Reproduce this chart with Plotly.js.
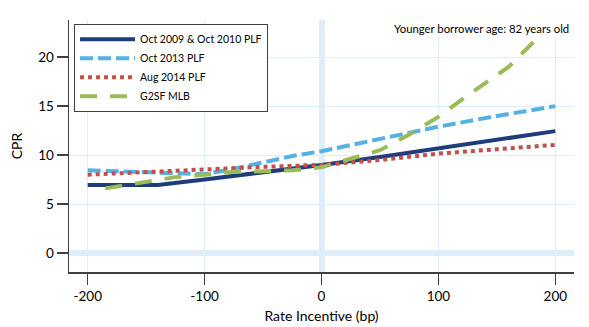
<!DOCTYPE html>
<html>
<head>
<meta charset="utf-8">
<script src="https://cdn.plot.ly/plotly-3.0.1.min.js"></script>
<style>html,body{margin:0;padding:0;background:#fff;}#chart{width:589px;height:327px;}</style>
</head>
<body>
<div id="chart"></div>
<script>
// Data
const seriesNames = ["Oct 2009 & Oct 2010 PLF", "Oct 2013 PLF", "Aug 2014 PLF", "G2SF MLB"];

const navyX = [-200, -140, -100, -50, 0, 50, 100, 150, 200];
const navyY = [6.95, 6.95, 7.5, 8.2, 9.0, 9.8, 10.7, 11.55, 12.45];

const blueX = [-200, -150, -100, -75, -50, -25, 0, 50, 100, 150, 200];
const blueY = [8.45, 8.25, 8.05, 8.6, 9.3, 9.9, 10.4, 11.7, 12.9, 14.0, 15.0];

const redX = [-200, -150, -100, -50, 0, 50, 100, 150, 200];
const redY = [8.0, 8.3, 8.55, 8.8, 9.0, 9.5, 10.15, 10.6, 11.05];

const greenX = [-185, -150, -125, -100, -75, -50, -25, 0, 25, 50, 75, 100, 125, 150, 160, 185];
const greenY = [6.6, 7.3, 7.75, 8.0, 8.3, 8.35, 8.45, 8.75, 9.65, 10.5, 12.1, 13.9, 16.1, 18.2, 19.0, 22.0];

const xTicks = [-200, -100, 0, 100, 200];
const yTicks = [0, 5, 10, 15, 20];

const FONT = "Lato, 'Open Sans', sans-serif";
const traces = [
  {x: navyX, y: navyY, name: seriesNames[0], mode: "lines",
   line: {color: "#1f3d7a", width: 4}},
  {x: blueX, y: blueY, name: seriesNames[1], mode: "lines",
   line: {color: "#56b1e3", width: 4, dash: "13px,5px"}},
  {x: redX, y: redY, name: seriesNames[2], mode: "lines",
   line: {color: "#c0504d", width: 4, dash: "4px,4px"}},
  {x: greenX, y: greenY, name: seriesNames[3], mode: "lines",
   line: {color: "#9bbb59", width: 4, dash: "17px,13px"}}
];

const gridColor = "#dfeefa";
const layout = {
  width: 589, height: 327,
  margin: {l: 69, r: 15, t: 20, b: 55},
  paper_bgcolor: "#ffffff", plot_bgcolor: "#ffffff",
  font: {family: FONT, color: "#000000", size: 13},
  showlegend: true,
  legend: {x: 0.01, y: 0.985, xanchor: "left", yanchor: "top",
    bgcolor: "#ffffff", bordercolor: "#404040", borderwidth: 1,
    font: {family: FONT, size: 10.5, color: "#000"}, itemwidth: 55, tracegroupgap: 0},
  xaxis: {range: [-216, 216], tickvals: xTicks, ticktext: xTicks.map(String),
    showgrid: true, gridcolor: gridColor, gridwidth: 1,
    zeroline: true, zerolinecolor: "#ddedfa", zerolinewidth: 6,
    showline: true, linecolor: "#404040", linewidth: 1.5,
    ticks: "outside", ticklen: 11, tickcolor: "#404040", tickwidth: 1.5,
    tickfont: {family: FONT, size: 13.5},
    title: {text: "Rate Incentive (bp)", font: {family: FONT, size: 14}, standoff: 8}},
  yaxis: {range: [-1.94, 23.8], tickvals: yTicks, ticktext: yTicks.map(String),
    showgrid: true, gridcolor: gridColor, gridwidth: 1,
    zeroline: true, zerolinecolor: "#ddedfa", zerolinewidth: 6,
    showline: true, linecolor: "#404040", linewidth: 1.5,
    ticks: "outside", ticklen: 11, tickcolor: "#404040", tickwidth: 1.5,
    tickfont: {family: FONT, size: 13.5},
    title: {text: "CPR", font: {family: FONT, size: 14}, standoff: 12}},
  annotations: [{xref: "paper", yref: "paper", x: 0.994, y: 1.0, xanchor: "right", yanchor: "top",
    text: "Younger borrower age: 82 years old", showarrow: false,
    bgcolor: "#ffffff", font: {family: FONT, size: 11.3, color: "#000"}}]
};

Plotly.newPlot("chart", traces, layout, {displayModeBar: false, staticPlot: true});
</script>
</body>
</html>
